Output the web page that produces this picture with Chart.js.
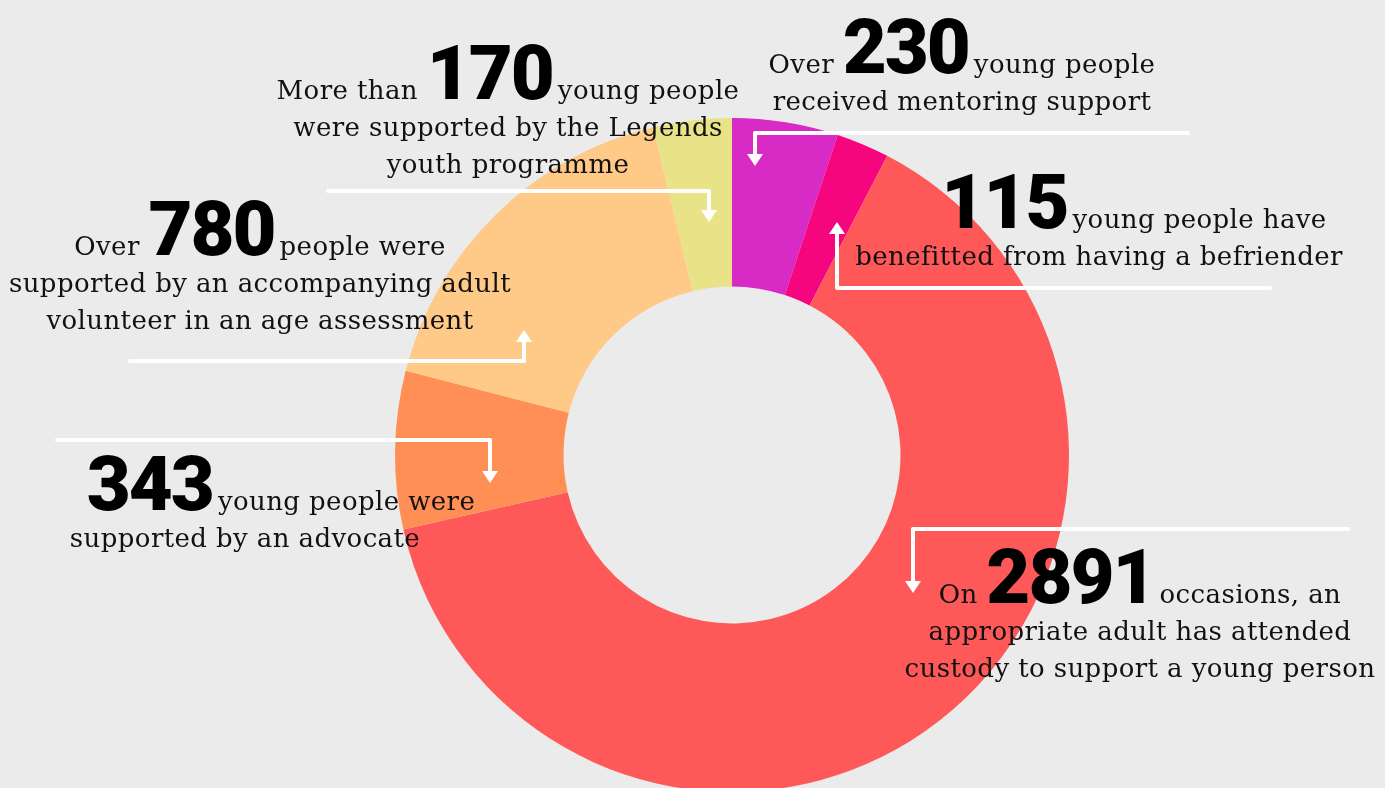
<!DOCTYPE html>
<html>
<head>
<meta charset="utf-8">
<script src="https://cdn.jsdelivr.net/npm/chart.js@4"></script>
<style>
  html, body { margin: 0; padding: 0; background: #ebebeb; overflow: hidden; }
  #wrap { position: relative; width: 1385px; height: 800px; }
  #chart { position: absolute; left: 0; top: 0; }
  .ln {
    position: absolute; display: flex; align-items: baseline; justify-content: center;
    transform: translateX(-50%); white-space: pre;
    font-family: "DejaVu Serif", serif; font-size: 26px; letter-spacing: 0.4px;
    line-height: 1; color: #111;
  }
  .big {
    font-family: Roboto, "DejaVu Sans", sans-serif; font-weight: 900; font-size: 76px;
    line-height: 1; letter-spacing: -2px; color: #000; margin: 0 5px 0 0;
  }
</style>
</head>
<body>
<div id="wrap">
  <canvas id="chart"></canvas>
</div>
<script>
// slices, clockwise from 12 o'clock
var categories = ["Mentoring support", "Befriender", "Appropriate adult in custody", "Advocate", "Age assessment volunteer", "Legends youth programme"];
var values = [230, 115, 2891, 343, 780, 170];
var colours = ["#d82ac4", "#f5067e", "#ff5858", "#ff8f55", "#ffc987", "#e9e388"];

// annotation text: [pre, number, post], then the following lines
// dx nudges the first line off the block centre
var notes = [
  { x: 962, y: 73, dx: 0, first: ["Over", "230", "young people"], rest: ["received mentoring support"] },
  { x: 508, y: 99, dx: 0, first: ["More than", "170", "young people"], rest: ["were supported by the Legends", "youth programme"] },
  { x: 1099, y: 228, dx: 35, first: ["", "115", "young people have"], rest: ["benefitted from having a befriender"] },
  { x: 260, y: 255, dx: 0, first: ["Over", "780", "people were"], rest: ["supported by an accompanying adult", "volunteer in an age assessment"] },
  { x: 245, y: 510, dx: 36, first: ["", "343", "young people were"], rest: ["supported by an advocate"] },
  { x: 1140, y: 603, dx: 0, first: ["On", "2891", "occasions, an"], rest: ["appropriate adult has attended", "custody to support a young person"] }
];

// leader lines (pixel paths), arrow drawn at last point
var leaders = [
  [[1188, 133], [755, 133], [755, 166]],
  [[328, 191], [709, 191], [709, 222]],
  [[1270, 288], [837, 288], [837, 222]],
  [[130, 361], [524, 361], [524, 330]],
  [[57, 440], [490, 440], [490, 483]],
  [[1348, 529], [913, 529], [913, 593]]
];

var wrap = document.getElementById("wrap");
notes.forEach(function (n) {
  var d = document.createElement("div");
  d.className = "ln";
  d.style.left = (n.x + n.dx) + "px";
  d.style.top = (n.y - 64) + "px";
  if (n.first[0]) d.appendChild(document.createTextNode(n.first[0] + " "));
  var b = document.createElement("span");
  b.className = "big";
  b.textContent = n.first[1];
  d.appendChild(b);
  d.appendChild(document.createTextNode(n.first[2]));
  wrap.appendChild(d);
  n.rest.forEach(function (t, i) {
    var l = document.createElement("div");
    l.className = "ln";
    l.style.left = n.x + "px";
    l.style.top = (n.y + 37 * (i + 1) - 22) + "px";
    l.textContent = t;
    wrap.appendChild(l);
  });
});

var leaderPlugin = {
  id: "leaders",
  afterDraw: function (chart) {
    var c = chart.ctx;
    c.save();
    c.strokeStyle = "#fff";
    c.fillStyle = "#fff";
    c.lineWidth = 4;
    c.lineCap = "round";
    c.lineJoin = "round";
    leaders.forEach(function (p) {
      var a = p[p.length - 2], e = p[p.length - 1];
      var dir = e[1] > a[1] ? 1 : -1;
      c.beginPath();
      c.moveTo(p[0][0], p[0][1]);
      for (var i = 1; i < p.length - 1; i++) c.lineTo(p[i][0], p[i][1]);
      c.lineTo(e[0], e[1] - dir * 10);
      c.stroke();
      c.beginPath();
      c.moveTo(e[0], e[1]);
      c.lineTo(e[0] - 8, e[1] - dir * 12);
      c.lineTo(e[0] + 8, e[1] - dir * 12);
      c.closePath();
      c.fill();
    });
    c.restore();
  }
};

var cv = document.getElementById("chart");
cv.width = 1385; cv.height = 800;
new Chart(cv, {
  type: "doughnut",
  data: {
    labels: categories,
    datasets: [{ data: values, backgroundColor: colours, borderWidth: 0, hoverOffset: 0 }]
  },
  options: {
    responsive: false,
    animation: false,
    cutout: "50%",
    layout: { padding: { left: 395, right: 316, top: 118, bottom: 8 } },
    plugins: { legend: { display: false }, tooltip: { enabled: false } }
  },
  plugins: [leaderPlugin]
});
</script>
</body>
</html>
